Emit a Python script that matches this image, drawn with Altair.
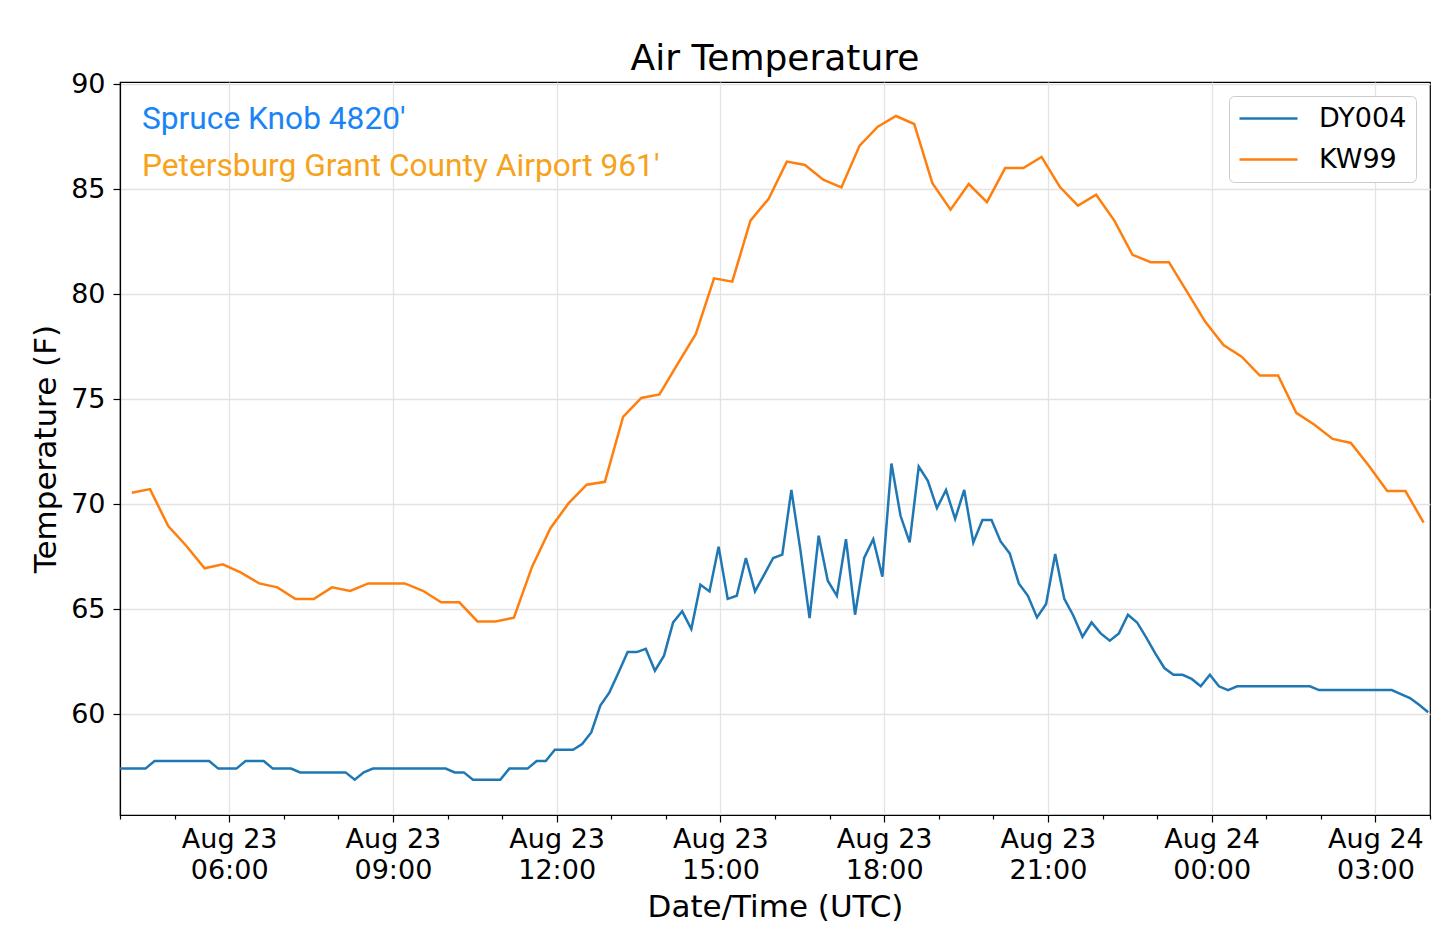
import altair as alt
import pandas as pd

# ---- data ----
# DY004 (Spruce Knob), 10-minute samples starting 2019-08-23 03:58 UTC
dy004_start = "2019-08-23 03:58"
dy004_temp_f = [
    57.4, 57.4, 57.4, 57.4,
    57.76, 57.76, 57.76, 57.76, 57.76, 57.76, 57.76,
    57.4, 57.4, 57.4,
    57.76, 57.76, 57.76,
    57.4, 57.4, 57.4,
    57.22, 57.22, 57.22, 57.22, 57.22, 57.22,
    56.87, 57.22,
    57.4, 57.4, 57.4, 57.4, 57.4, 57.4, 57.4, 57.4, 57.4,
    57.22, 57.22,
    56.87, 56.87, 56.87, 56.87,
    57.4, 57.4, 57.4,
    57.76, 57.76,
    58.3, 58.3, 58.3,
    58.57, 59.12, 60.4, 61.03, 61.98, 62.95, 62.95, 63.1, 62.06, 62.78,
    64.36, 64.89, 64.05, 66.16, 65.84, 67.97, 65.48, 65.63, 67.43, 65.84,
    66.63, 67.43, 67.59, 70.67, 67.78, 64.57, 68.49, 66.35, 65.63, 68.33,
    64.73, 67.43, 68.33, 66.54, 71.93, 69.44, 68.17, 71.78, 71.11, 69.81,
    70.67, 69.29, 70.67, 68.17, 69.24, 69.24, 68.22, 67.65, 66.22, 65.63,
    64.6, 65.24, 67.62, 65.48, 64.68, 63.68, 64.36, 63.84, 63.49, 63.84,
    64.73, 64.36, 63.65, 62.89, 62.19, 61.87, 61.87, 61.67, 61.32, 61.87,
    61.32, 61.14,
    61.32, 61.32, 61.32, 61.32, 61.32, 61.32, 61.32, 61.32, 61.32,
    61.14, 61.14, 61.14, 61.14, 61.14, 61.14, 61.14, 61.14, 61.14,
    60.95, 60.76, 60.44, 60.08,
]

# KW99 (Petersburg Grant County Airport), 20-minute samples starting 04:13 UTC
kw99_start = "2019-08-23 04:13"
kw99_temp_f = [
    70.54, 70.71, 68.95, 68.0, 66.94, 67.13, 66.73, 66.22, 66.03, 65.48,
    65.48, 66.03, 65.86, 66.22, 66.22, 66.22, 65.87, 65.32, 65.32, 64.41,
    64.41, 64.59, 67.02, 68.84, 70.03, 70.92, 71.06, 74.15, 75.05, 75.22,
    76.68, 78.1, 80.75, 80.59, 83.5, 84.54, 86.31, 86.15, 85.45, 85.08,
    87.07, 87.97, 88.48, 88.1, 85.28, 84.02, 85.24, 84.38, 86.0, 86.0,
    86.53, 85.11, 84.21, 84.73, 83.5, 81.87, 81.52, 81.52, 80.1, 78.68,
    77.57, 77.02, 76.12, 76.12, 74.34, 73.78, 73.1, 72.91, 71.81, 70.62,
    70.62, 69.12,
]

stations = ["DY004", "KW99"]
line_colors = ["#1f77b4", "#ff7f0e"]
annotations = ["Spruce Knob 4820'", "Petersburg Grant County Airport 961'"]
annotation_colors = ["#1a84f5", "#f7a21b"]
y_ticks = [60, 65, 70, 75, 80, 85, 90]

# ---- build table ----
dy_times = pd.date_range(dy004_start, periods=len(dy004_temp_f), freq="10min")
kw_times = pd.date_range(kw99_start, periods=len(kw99_temp_f), freq="20min")
df = pd.concat([
    pd.DataFrame({"time": dy_times.strftime("%Y-%m-%dT%H:%M:%SZ"),
                  "temp": dy004_temp_f, "station": stations[0]}),
    pd.DataFrame({"time": kw_times.strftime("%Y-%m-%dT%H:%M:%SZ"),
                  "temp": kw99_temp_f, "station": stations[1]}),
], ignore_index=True)

t0 = pd.Timestamp("2019-08-23 04:00", tz="UTC")
t1 = pd.Timestamp("2019-08-24 04:00", tz="UTC")
x_ticks = [int(t.timestamp() * 1000) for t in pd.date_range(t0, t1, freq="1h")]
x_domain = [int(t0.timestamp() * 1000), int(t1.timestamp() * 1000)]

FONT = "DejaVu Sans"
major = "utchours(datum.value) % 3 == 0"

x_axis = alt.Axis(
    values=x_ticks,
    title="Date/Time (UTC)",
    titleFont=FONT, titleFontSize=31, titleFontWeight="normal", titleColor="black",
    titleY=101, titleBaseline="alphabetic",
    labelExpr=f"{major} ? [utcFormat(datum.value, '%b %d'), utcFormat(datum.value, '%H:%M')] : ''",
    labelFont=FONT, labelFontSize=27, labelColor="black", labelLineHeight=31,
    labelPadding=4, labelFlush=False, labelOverlap=False, labelBound=False,
    tickColor="black", tickWidth=1.2,
    tickSize={"condition": {"test": major, "value": 7}, "value": 4},
    grid=True, gridColor="#e3e3e3", gridWidth=1.3,
    gridOpacity={"condition": {"test": major, "value": 1}, "value": 0},
    domainColor="black", domainWidth=1.2,
)

y_axis = alt.Axis(
    values=y_ticks,
    title="Temperature (F)",
    titleFont=FONT, titleFontSize=31, titleFontWeight="normal", titleColor="black",
    titleX=-65, titleBaseline="alphabetic",
    labelFont=FONT, labelFontSize=27, labelColor="black", labelPadding=8,
    tickColor="black", tickWidth=1.2, tickSize=7,
    grid=True, gridColor="#e3e3e3", gridWidth=1.3,
    domainColor="black", domainWidth=1.2,
)

lines = alt.Chart(df).mark_line(strokeWidth=2.5, clip=True).encode(
    x=alt.X("time:T", scale=alt.Scale(type="utc", domain=x_domain, nice=False), axis=x_axis),
    y=alt.Y("temp:Q", scale=alt.Scale(domain=[55.19, 90.1], nice=False, zero=False), axis=y_axis),
    color=alt.Color(
        "station:N",
        scale=alt.Scale(domain=stations, range=line_colors),
        legend=alt.Legend(
            title=None, orient="top-right", offset=14,
            labelFont=FONT, labelFontSize=27, labelColor="black", labelOffset=20,
            symbolType="stroke", symbolSize=3364, symbolStrokeWidth=2.5,
            clipHeight=27, rowPadding=13, padding=9,
            fillColor="white", strokeColor="#cccccc", cornerRadius=5,
        ),
    ),
    detail="station:N",
)

ann1 = alt.Chart(pd.DataFrame({"label": [annotations[0]]})).mark_text(
    align="left", baseline="alphabetic", font="Roboto", fontSize=31.7,
    color=annotation_colors[0],
).encode(text="label:N", x=alt.value(22), y=alt.value(47))

ann2 = alt.Chart(pd.DataFrame({"label": [annotations[1]]})).mark_text(
    align="left", baseline="alphabetic", font="Roboto", fontSize=31.7,
    color=annotation_colors[1],
).encode(text="label:N", x=alt.value(22), y=alt.value(94))

chart = alt.layer(lines, ann1, ann2).properties(
    width=1310, height=733,
    background="white",
    title=alt.TitleParams("Air Temperature", font=FONT, fontSize=36,
                          fontWeight="normal", color="black", anchor="middle",
                          offset=3, dy=11),
    autosize=alt.AutoSizeParams(type="none"),
    padding={"left": 112, "top": 74, "right": 2, "bottom": 118},
).configure_view(stroke="black", strokeWidth=1.2)

chart.save("out.html", embed_options={"renderer": "svg", "actions": False})
